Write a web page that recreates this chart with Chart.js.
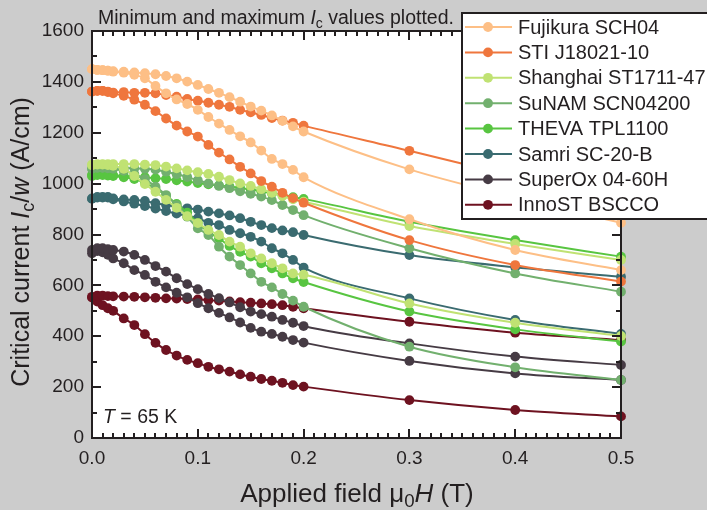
<!DOCTYPE html>
<html>
<head>
<meta charset="utf-8">
<script src="https://cdn.jsdelivr.net/npm/chart.js@4.4.1/dist/chart.umd.min.js"></script>
<style>
  body { margin: 0; background: #cccccc; }
  canvas { display: block; }
</style>
</head>
<body>
<canvas id="icChart" width="707" height="510"></canvas>
<script>
// Applied field (T) at which Ic was measured
const fields = [0, 0.005, 0.01, 0.015, 0.02, 0.03, 0.04, 0.05, 0.06, 0.07, 0.08, 0.09, 0.1,
  0.11, 0.12, 0.13, 0.14, 0.15, 0.16, 0.17, 0.18, 0.19, 0.2, 0.3, 0.4, 0.5];

const tapes = ['Fujikura SCH04', 'STI J18021-10', 'Shanghai ST1711-47', 'SuNAM SCN04200',
  'THEVA TPL1100', 'Samri SC-20-B', 'SuperOx 04-60H', 'InnoST BSCCO'];

// Ic/w in A/cm, maximum and minimum curve for each tape
const fujikuraMax = [1450,1447,1446,1444,1442,1440,1437,1434,1430,1423,1414,1401,1388,1372,1357,1340,1322,1303,1287,1268,1247,1225,1205,1056,946,846];
const fujikuraMin = [1450,1447,1446,1444,1440,1436,1428,1414,1384,1355,1331,1313,1290,1262,1236,1211,1186,1162,1130,1097,1077,1054,1025,860,739,660];
const stiMax = [1362,1365,1365,1362,1358,1360,1357,1357,1355,1348,1342,1333,1326,1318,1310,1302,1290,1280,1270,1258,1248,1239,1228,1129,1027,925];
const stiMin = [1362,1365,1365,1360,1355,1345,1330,1310,1285,1256,1228,1205,1185,1152,1122,1095,1066,1040,1010,988,964,943,925,778,680,615];
const shanghaiMax = [1075,1077,1077,1077,1077,1077,1077,1075,1073,1067,1060,1052,1045,1038,1027,1014,1001,991,978,964,951,938,929,833,763,700];
const shanghaiMin = [1072,1075,1075,1073,1070,1058,1030,998,968,936,905,872,845,818,798,772,752,726,706,687,667,647,642,529,453,401];
const sunamMax = [1060,1063,1063,1063,1062,1062,1060,1058,1055,1047,1037,1026,1013,1001,991,982,970,960,949,935,916,896,876,746,647,575];
const sunamMin = [1058,1062,1062,1060,1058,1050,1038,1018,988,955,915,870,824,798,752,713,680,647,614,592,566,540,516,359,278,228];
const thevaMax = [1034,1036,1036,1034,1033,1030,1028,1025,1021,1018,1013,1008,1002,997,993,988,983,977,970,962,955,947,940,850,778,713];
const thevaMin = [1030,1034,1034,1032,1030,1025,1018,1003,982,952,920,886,845,810,785,755,732,713,687,667,647,628,613,497,427,379];
const samriMax = [942,948,948,948,942,938,936,932,923,916,909,903,898,890,883,875,864,850,837,825,816,809,798,719,671,634];
const samriMin = [940,945,945,945,938,930,921,912,902,892,882,873,864,846,837,818,805,791,772,746,726,700,670,549,464,409];
const superoxMax = [739,746,746,742,739,733,720,700,676,654,628,605,585,566,550,533,514,497,487,477,464,453,440,372,320,287];
const superoxMin = [726,735,730,720,706,687,660,641,614,592,571,553,530,510,492,474,454,433,418,409,398,385,375,303,254,228];
const innostMax = [555,560,560,558,557,556,555,553,551,549,548,546,545,542,540,537,534,532,529,526,522,516,510,457,414,385];
const innostMin = [552,536,522,510,500,470,444,408,374,346,324,307,294,280,270,261,250,241,232,225,217,208,202,149,110,85];

const maxCurves = [fujikuraMax, stiMax, shanghaiMax, sunamMax, thevaMax, samriMax, superoxMax, innostMax];
const minCurves = [fujikuraMin, stiMin, shanghaiMin, sunamMin, thevaMin, samriMin, superoxMin, innostMin];

const colors = ['#fdbf86', '#ef763d', '#c0e273', '#72b06e', '#58c541', '#3a6b70', '#463b44', '#6e1220'];
const FONT = '"Liberation Sans", Arial, sans-serif';
const INK = '#231f20';

const datasets = [];
tapes.forEach((name, i) => {
  [maxCurves[i], minCurves[i]].forEach(vals => {
    datasets.push({
      label: name,
      data: fields.map((f, k) => ({ x: f, y: vals[k] })),
      borderColor: colors[i],
      backgroundColor: colors[i],
      pointBackgroundColor: colors[i],
      borderWidth: 2,
      pointRadius: 4.9,
      pointBorderWidth: 0,
      cubicInterpolationMode: 'monotone',
      clip: false
    });
  });
});

// text with italic letters and subscripts
function drawRich(ctx, parts, x, y, size) {
  let cx = x;
  parts.forEach(p => {
    const fs = p.sub ? size * 0.72 : size;
    ctx.font = (p.it ? 'italic ' : '') + fs + 'px ' + FONT;
    ctx.fillText(p.t, cx, y + (p.sub ? size * 0.2 : 0));
    cx += ctx.measureText(p.t).width;
  });
}
function richWidth(ctx, parts, size) {
  let w = 0;
  parts.forEach(p => {
    const fs = p.sub ? size * 0.72 : size;
    ctx.font = (p.it ? 'italic ' : '') + fs + 'px ' + FONT;
    w += ctx.measureText(p.t).width;
  });
  return w;
}

const decorPlugin = {
  id: 'decor',
  beforeDatasetsDraw(chart) {
    const a = chart.chartArea, ctx = chart.ctx;
    ctx.save();
    ctx.fillStyle = '#ffffff';
    ctx.fillRect(a.left, a.top, a.right - a.left, a.bottom - a.top);
    ctx.restore();
  },
  afterDatasetsDraw(chart) {
    const a = chart.chartArea, ctx = chart.ctx;
    const xs = chart.scales.x, ys = chart.scales.y;
    ctx.save();
    ctx.strokeStyle = INK;
    ctx.lineWidth = 2;
    // inward ticks on all four sides
    ctx.beginPath();
    for (let k = 0; k <= 50; k++) {
      const px = Math.round(xs.getPixelForValue(k / 100));
      const len = k % 10 === 0 ? 9 : 5;
      ctx.moveTo(px, a.bottom); ctx.lineTo(px, a.bottom - len);
      ctx.moveTo(px, a.top); ctx.lineTo(px, a.top + len);
    }
    for (let v = 0; v <= 1600; v += 100) {
      const py = Math.round(ys.getPixelForValue(v));
      const len = v % 200 === 0 ? 9 : 5;
      ctx.moveTo(a.left, py); ctx.lineTo(a.left + len, py);
      ctx.moveTo(a.right, py); ctx.lineTo(a.right - len, py);
    }
    ctx.stroke();
    ctx.strokeRect(a.left, a.top, a.right - a.left, a.bottom - a.top);

    ctx.fillStyle = INK;
    ctx.textBaseline = 'alphabetic';
    // note above the plot
    drawRich(ctx, [{ t: 'Minimum and maximum ' }, { t: 'I', it: true }, { t: 'c', sub: true },
      { t: ' values plotted.' }], 98, 24, 19.5);
    // temperature label
    drawRich(ctx, [{ t: 'T', it: true }, { t: ' = 65 K' }], 103, 423, 19.5);
    // x axis title
    const xt = [{ t: 'Applied field \u03bc' }, { t: '0', sub: true }, { t: 'H', it: true }, { t: ' (T)' }];
    const xw = richWidth(ctx, xt, 26);
    drawRich(ctx, xt, 357 - xw / 2, 502, 26);
    // y axis title
    const yt = [{ t: 'Critical current ' }, { t: 'I', it: true }, { t: 'c', sub: true }, { t: '/' },
      { t: 'w', it: true }, { t: ' (A/cm)' }];
    const yw = richWidth(ctx, yt, 25);
    ctx.translate(29, 242);
    ctx.rotate(-Math.PI / 2);
    drawRich(ctx, yt, -yw / 2, 0, 25);
    ctx.restore();
  },
  afterDraw(chart) {
    const ctx = chart.ctx;
    ctx.save();
    ctx.fillStyle = '#ffffff';
    ctx.fillRect(462, 13, 260, 206);
    ctx.strokeStyle = INK;
    ctx.lineWidth = 2;
    ctx.strokeRect(462, 13, 260, 206);
    ctx.font = '20px ' + FONT;
    ctx.textBaseline = 'middle';
    tapes.forEach((name, i) => {
      const y = 27 + i * 25.4;
      ctx.strokeStyle = colors[i];
      ctx.beginPath(); ctx.moveTo(465, y); ctx.lineTo(512, y); ctx.stroke();
      ctx.fillStyle = colors[i];
      ctx.beginPath(); ctx.arc(488, y, 4.9, 0, Math.PI * 2); ctx.fill();
      ctx.fillStyle = INK;
      ctx.fillText(name, 518, y + 1);
    });
    ctx.restore();
  }
};

new Chart(document.getElementById('icChart').getContext('2d'), {
  type: 'line',
  data: { datasets: datasets },
  options: {
    responsive: false,
    animation: false,
    devicePixelRatio: 1,
    layout: { padding: { left: 0, top: 31, right: 86, bottom: 0 } },
    plugins: { legend: { display: false }, tooltip: { enabled: false } },
    scales: {
      x: {
        type: 'linear', min: 0, max: 0.5,
        afterFit: s => { s.height = 72; },
        grid: { display: false, drawTicks: false },
        border: { display: false },
        ticks: {
          stepSize: 0.1, padding: 9, color: INK,
          font: { family: FONT, size: 19 },
          callback: v => v.toFixed(1)
        }
      },
      y: {
        min: 0, max: 1600,
        afterFit: s => { s.width = 92; },
        grid: { display: false, drawTicks: false },
        border: { display: false },
        ticks: {
          stepSize: 200, padding: 8, color: INK,
          font: { family: FONT, size: 19 },
          callback: v => String(v)
        }
      }
    }
  },
  plugins: [decorPlugin]
});
</script>
</body>
</html>
